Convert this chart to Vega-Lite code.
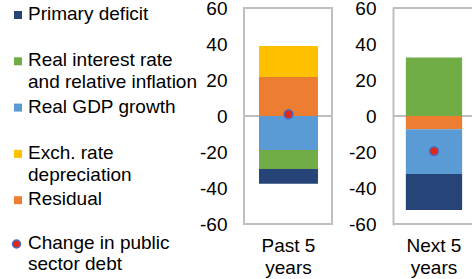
{
  "$schema": "https://vega.github.io/schema/vega-lite/v6.json",
  "background": "white",
  "padding": {"left": 7, "top": -2, "right": 0, "bottom": 0},
  "datasets": {
    "bars": [
      {"period": "Past 5 years", "series": "Residual", "k": 1, "value": 21.7},
      {"period": "Past 5 years", "series": "Real GDP growth", "k": 2, "value": -18.9},
      {"period": "Past 5 years", "series": "Real interest rate and relative inflation", "k": 3, "value": -10.5},
      {"period": "Past 5 years", "series": "Exch. rate depreciation", "k": 4, "value": 17.2},
      {"period": "Past 5 years", "series": "Primary deficit", "k": 5, "value": -8.2},
      {"period": "Next 5 years", "series": "Residual", "k": 1, "value": -7.4},
      {"period": "Next 5 years", "series": "Real GDP growth", "k": 2, "value": -24.8},
      {"period": "Next 5 years", "series": "Real interest rate and relative inflation", "k": 3, "value": 32.5},
      {"period": "Next 5 years", "series": "Primary deficit", "k": 5, "value": -20.0}
    ],
    "debt": [
      {"period": "Past 5 years", "debt": 1.0},
      {"period": "Next 5 years", "debt": -19.5}
    ]
  },
  "bounds": "flush",
  "spacing": 61,
  "hconcat": [
    {
      "width": 88,
      "height": 216,
      "layer": [
        {
          "data": {"values": [{}]},
          "mark": {"type": "rule", "color": "#bfbfbf", "strokeWidth": 2},
          "encoding": {"y": {"datum": 0, "type": "quantitative"}}
        },
        {
          "data": {"name": "bars"},
          "transform": [{"filter": "datum.period == 'Past 5 years'"}],
          "mark": {"type": "bar"},
          "encoding": {
            "x": {"field": "period", "type": "nominal", "scale": {"paddingInner": 0, "paddingOuter": 0.246, "align": 0.517},
                  "axis": {"orient": "bottom", "labelAngle": 0, "labelPadding": 12, "labelBaseline": "top", "labelLineHeight": 22, "domain": false, "labelExpr": "[replace(datum.label, ' years', ''), 'years']"}},
            "y": {"field": "value", "type": "quantitative", "stack": "zero", "scale": {"domain": [-60, 60], "nice": false},
                  "axis": {"values": [-60, -40, -20, 0, 20, 40, 60], "tickCount": 20, "labelPadding": 17, "labelOverlap": false, "labelExpr": "'' + datum.value", "domain": false}},
            "color": {"field": "series", "type": "nominal",
              "scale": {"domain": ["Primary deficit", "Real interest rate and relative inflation", "Real GDP growth", "Exch. rate depreciation", "Residual"],
                        "range": ["#264478", "#70ad47", "#5b9bd5", "#ffc000", "#ed7d31"]},
              "legend": {"orient": "none", "legendX": -235.5, "legendY": 2.5, "title": null, "direction": "vertical", "columns": 1, "gridAlign": "all", "rowPadding": 4.3, "padding": 0,
                "symbolType": "M-1,-2.25H1V-0.25H-1Z", "symbolSize": 64, "symbolStrokeWidth": 0,
                "labelFont": "Liberation Sans", "labelFontSize": 19, "labelColor": "#000000", "labelLimit": 300, "labelOffset": 0.5, "labelBaseline": "alphabetic",
                "labelExpr": "datum.label == 'Real interest rate and relative inflation' ? ['Real interest rate', 'and relative inflation'] : datum.label == 'Exch. rate depreciation' ? ['Exch. rate', 'depreciation'] : datum.label",
                "encode": {"labels": {"update": {"lineHeight": {"value": 22}}}}}},
            "order": {"field": "k", "type": "quantitative"}
          }
        },
        {
          "data": {"name": "debt"},
          "transform": [{"filter": "datum.period == 'Past 5 years'"}],
          "mark": {"type": "point", "filled": true, "size": 80, "stroke": "#4472c4", "strokeWidth": 1.5, "opacity": 1},
          "encoding": {
            "x": {"field": "period", "type": "nominal"},
            "y": {"field": "debt", "type": "quantitative"},
            "fill": {"datum": "Change in public sector debt", "type": "nominal", "scale": {"range": ["#e2261d"]},
              "legend": {"orient": "none", "legendX": -237, "legendY": 231.5, "title": null, "padding": 0,
                "symbolType": "M-1,-1.25A1,1,0,1,1,1,-1.25A1,1,0,1,1,-1,-1.25Z", "symbolSize": 64, "symbolStrokeColor": "#4472c4", "symbolStrokeWidth": 1.5,
                "labelFont": "Liberation Sans", "labelFontSize": 19, "labelColor": "#000000", "labelLimit": 300, "labelOffset": 2, "labelBaseline": "alphabetic",
                "labelExpr": "['Change in public', 'sector debt']",
                "encode": {"labels": {"update": {"lineHeight": {"value": 22}}}}}}
          }
        }
      ]
    },
    {
      "width": 79,
      "height": 216,
      "view": {"stroke": null},
      "layer": [
        {
          "data": {"values": [{}]},
          "mark": {"type": "rule", "color": "#bfbfbf", "strokeWidth": 2},
          "encoding": {"y": {"datum": 0, "type": "quantitative"}}
        },
        {
          "data": {"values": [{}]},
          "mark": {"type": "rule", "color": "#bfbfbf", "strokeWidth": 2},
          "encoding": {"y": {"datum": 60, "type": "quantitative"}}
        },
        {
          "data": {"values": [{}]},
          "mark": {"type": "rule", "color": "#bfbfbf", "strokeWidth": 2},
          "encoding": {"y": {"datum": -60, "type": "quantitative"}}
        },
        {
          "data": {"name": "bars"},
          "transform": [{"filter": "datum.period == 'Next 5 years'"}],
          "mark": {"type": "bar"},
          "encoding": {
            "x": {"field": "period", "type": "nominal", "scale": {"paddingInner": 0, "paddingOuter": 0.2018, "align": 0.565},
                  "axis": {"orient": "bottom", "labelAngle": 0, "labelPadding": 12, "labelBaseline": "top", "labelLineHeight": 22, "domain": false, "labelExpr": "[replace(datum.label, ' years', ''), 'years']"}},
            "y": {"field": "value", "type": "quantitative", "stack": "zero", "scale": {"domain": [-60, 60], "nice": false},
                  "axis": {"values": [-60, -40, -20, 0, 20, 40, 60], "tickCount": 20, "labelPadding": 17, "labelOverlap": false, "labelExpr": "'' + datum.value", "domain": true, "domainColor": "#bfbfbf", "domainWidth": 2, "domainCap": "square"}},
            "color": {"field": "series", "type": "nominal"},
            "order": {"field": "k", "type": "quantitative"}
          }
        },
        {
          "data": {"name": "debt"},
          "transform": [{"filter": "datum.period == 'Next 5 years'"}],
          "mark": {"type": "point", "filled": true, "size": 80, "stroke": "#4472c4", "strokeWidth": 1.5, "opacity": 1},
          "encoding": {
            "x": {"field": "period", "type": "nominal"},
            "y": {"field": "debt", "type": "quantitative"},
            "fill": {"datum": "Change in public sector debt", "type": "nominal"}
          }
        }
      ]
    }
  ],
  "config": {
    "font": "Liberation Sans",
    "view": {"stroke": "#bfbfbf", "strokeWidth": 2},
    "axis": {"labelFont": "Liberation Sans", "labelFontSize": 19, "labelColor": "#000000", "ticks": false, "tickSize": 0, "grid": false, "title": null, "labelOverlap": false, "labelSeparation": 0}
  }
}
